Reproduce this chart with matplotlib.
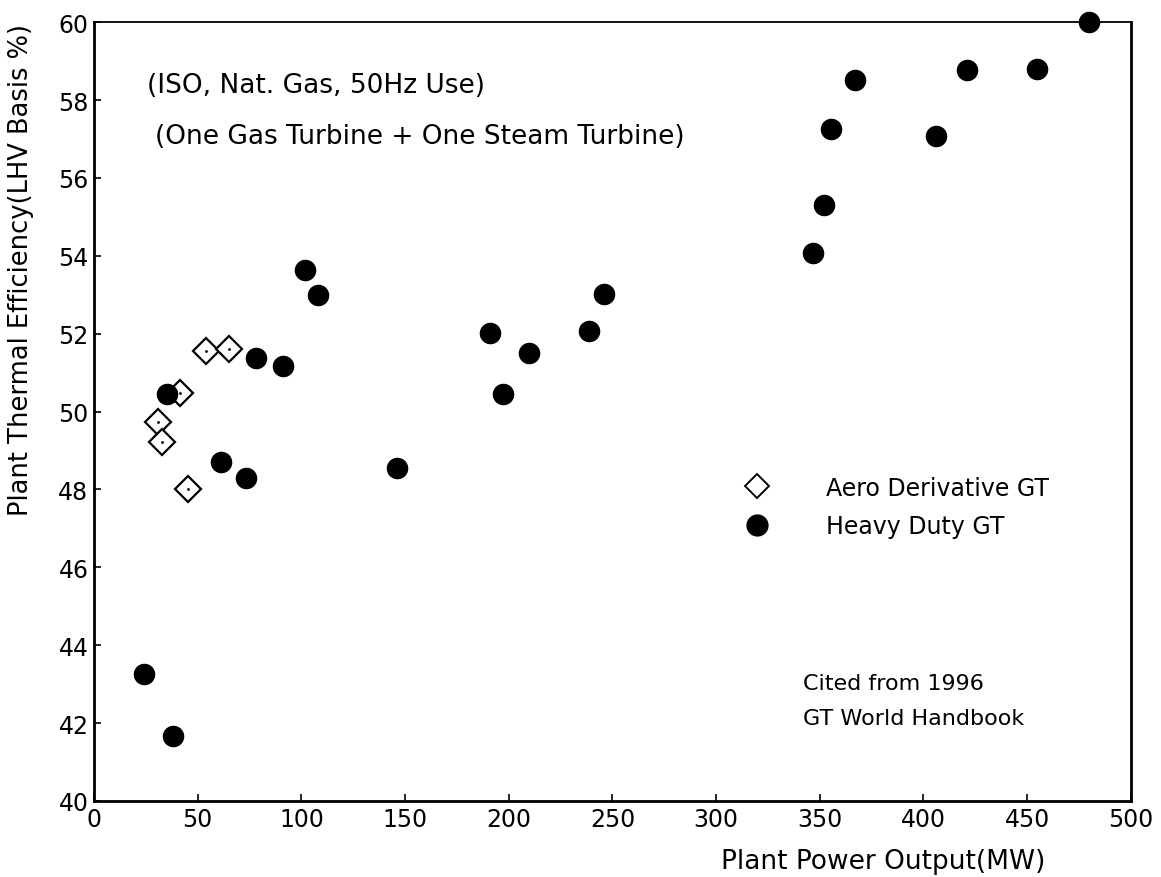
import matplotlib
matplotlib.use("Agg")
import matplotlib.pyplot as plt
from matplotlib.lines import Line2D

plt.rcParams["font.family"] = ["DejaVu Sans"]

# Aero derivative GT (open diamonds)
aero_mw = [30.9, 32.8, 41.5, 45.3, 54.0, 65.0]
aero_eff = [49.73, 49.22, 50.47, 48.01, 51.55, 51.60]

# Heavy duty GT (filled circles)
heavy_mw = [24.1, 38.1, 35.2, 61.2, 73.3, 78.0, 91.0, 101.7, 108.0, 146.0,
            190.9, 197.2, 209.7, 238.7, 245.9, 346.7, 352.0, 355.4, 367.0,
            406.0, 421.0, 454.7, 480.0]
heavy_eff = [43.26, 41.67, 50.45, 48.70, 48.29, 51.37, 51.17, 53.63, 52.99, 48.55,
             52.02, 50.45, 51.50, 52.07, 53.02, 54.07, 55.30, 57.25, 58.51,
             57.07, 58.77, 58.80, 60.00]

x_ticks = list(range(0, 501, 50))
y_ticks = list(range(40, 61, 2))

fig = plt.figure(figsize=(11.61, 8.78), dpi=100)
ax = fig.add_axes([0.081, 0.0866, 0.893, 0.887])

ax.plot(aero_mw, aero_eff, linestyle="none", marker="D", markersize=13,
        markerfacecolor="white", markeredgecolor="black", markeredgewidth=1.6,
        clip_on=False)
ax.plot(aero_mw, aero_eff, linestyle="none", marker=".", markersize=2,
        color="black")
ax.plot(heavy_mw, heavy_eff, linestyle="none", marker="o", markersize=14.5,
        color="black", clip_on=False, zorder=3)

ax.set_xlim(0, 500)
ax.set_ylim(40, 60)
ax.set_xticks(x_ticks)
ax.set_yticks(y_ticks)
ax.tick_params(direction="in", length=5, width=1.2, labelsize=17, pad=4)

for side in ["left", "bottom", "right"]:
    ax.spines[side].set_linewidth(2)
ax.spines["top"].set_linewidth(1.3)

ax.set_xlabel("Plant Power Output(MW)", fontsize=19)
ax.set_ylabel("Plant Thermal Efficiency(LHV Basis %)", fontsize=18.5)
ax.xaxis.set_label_coords(0.761, -0.060)
ax.yaxis.set_label_coords(-0.058, 0.683)

fig.text(147 / 1161, 1 - 86 / 878, "(ISO, Nat. Gas, 50Hz Use)",
         fontsize=19, va="center", ha="left")
fig.text(155 / 1161, 1 - 137 / 878, "(One Gas Turbine + One Steam Turbine)",
         fontsize=19, va="center", ha="left")
fig.text(803 / 1161, 1 - 684 / 878, "Cited from 1996",
         fontsize=16, va="center", ha="left")
fig.text(803 / 1161, 1 - 719 / 878, "GT World Handbook",
         fontsize=16, va="center", ha="left")

handles = [
    Line2D([], [], linestyle="none", marker="D", markersize=12.5,
           markerfacecolor="white", markeredgecolor="black", markeredgewidth=1.4),
    Line2D([], [], linestyle="none", marker="o", markersize=15, color="black"),
]
ax.legend(handles, ["Aero Derivative GT", "Heavy Duty GT"], loc="upper left",
          bbox_to_anchor=(0.596, 0.445), frameon=False, fontsize=17,
          handletextpad=1.92, labelspacing=0.6)

fig.savefig("out.png", dpi=100)
